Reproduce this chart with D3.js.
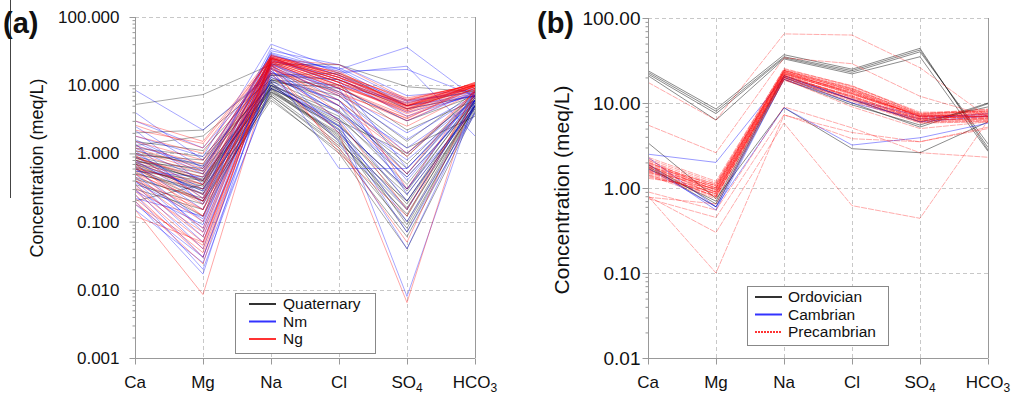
<!DOCTYPE html>
<html>
<head>
<meta charset="utf-8">
<script src="https://cdn.jsdelivr.net/npm/d3@7"></script>
<style>
  body { margin: 0; background: #fff; }
  svg { display: block; font-family: "Liberation Sans", Arial, sans-serif; }
</style>
</head>
<body>
<svg id="chart" width="1015" height="395"></svg>
<script>
const ions = ["Ca", "Mg", "Na", "Cl", "SO4", "HCO3"]
const ionLabels = [["Ca", ""], ["Mg", ""], ["Na", ""], ["Cl", ""], ["SO", "4"], ["HCO", "3"]]

// panel (a) ticks
const ticksA = [0.001, 0.01, 0.1, 1, 10, 100]
const tickLabelsA = ["0.001", "0.010", "0.100", "1.000", "10.000", "100.000"]
// panel (b) ticks
const ticksB = [0.01, 0.1, 1, 10, 100]
const tickLabelsB = ["0.01", "0.10", "1.00", "10.00", "100.00"]

// (a) Quaternary samples: Ca, Mg, Na, Cl, SO4, HCO3 (meq/L)
const quaternary = [
  [5.2, 7.3, 20, 20, 9.5, 8],
  [2.0, 2.2, 14, 12, 4.5, 7],
  [1.3, 1.8, 12, 10, 2.2, 6],
  [1.2, 0.9, 10, 4, 0.6, 6.5],
  [0.9, 0.55, 9, 3, 1.0, 7],
  [0.8, 0.45, 8, 2, 0.25, 5],
  [0.7, 0.35, 11, 1.5, 0.15, 6],
  [0.65, 0.3, 7, 1.2, 0.08, 4.5],
  [0.6, 0.25, 6.5, 1.0, 0.04, 4],
  [0.55, 0.4, 12, 6, 0.9, 7.5],
  [0.5, 0.3, 9, 1.8, 0.12, 5.5],
  [0.45, 0.2, 8, 2.5, 0.3, 6],
  [0.3, 0.15, 7.5, 1.4, 0.2, 5],
  [1.0, 0.7, 15, 8, 1.5, 8],
  [0.75, 0.6, 13, 5, 0.5, 7],
  [0.4, 0.12, 10, 3.5, 0.35, 6.5],
  [0.2, 0.35, 9.5, 2.2, 0.09, 5],
  [0.85, 0.5, 11, 9, 3.0, 7],
  [1.5, 1.1, 14, 15, 5, 8.5],
  [0.6, 0.2, 6, 1.1, 0.06, 4.2],
  [0.95, 0.8, 10.5, 3.2, 0.45, 5.5],
  [0.7, 0.28, 8.5, 1.6, 0.1, 5.2],
  [0.35, 0.18, 7, 1.3, 0.13, 4.8],
  [1.1, 0.65, 12, 7, 1.2, 3.5],
  [0.8, 0.4, 9, 2.8, 0.2, 6],
  [0.62, 0.33, 10, 2.3, 0.18, 5.8],
  [0.52, 0.26, 8.8, 1.7, 0.07, 5],
  [0.72, 0.42, 11.5, 4.2, 0.7, 6.8],
  [0.42, 0.22, 7.8, 1.9, 0.16, 4.6],
  [0.88, 0.38, 9.8, 2.6, 0.28, 6.2]
]

// (a) Nm samples
const nm = [
  [8.5, 2.2, 15, 12, 0.6, 7],
  [3.0, 1.2, 18, 5, 0.3, 8],
  [2.5, 0.6, 20, 2, 0.15, 6],
  [1.8, 0.9, 40, 17, 36, 6.5],
  [1.5, 0.5, 30, 16, 17, 7],
  [1.2, 0.4, 35, 15, 19, 1.8],
  [1.0, 0.3, 25, 12, 5, 7.5],
  [0.9, 0.25, 22, 18, 6, 8],
  [0.8, 0.2, 20, 3, 0.008, 6],
  [0.7, 0.15, 28, 14, 4.5, 7],
  [0.6, 0.1, 15, 1.5, 0.04, 5],
  [0.5, 0.08, 18, 0.6, 0.6, 6],
  [0.45, 0.06, 12, 2.5, 0.3, 4.5],
  [0.4, 0.05, 22, 8, 2, 7],
  [0.35, 0.04, 16, 5, 1.2, 6],
  [0.3, 0.03, 14, 4, 0.8, 5.5],
  [0.25, 0.02, 10, 2.5, 0.1, 4],
  [0.2, 0.017, 20, 9, 3, 8],
  [0.18, 0.03, 13, 6, 0.5, 6.5],
  [0.22, 0.12, 26, 10, 5.5, 9],
  [2.2, 0.35, 24, 11, 4, 7],
  [1.4, 0.18, 19, 7, 1.0, 6],
  [0.65, 0.07, 17, 9, 0.25, 5],
  [0.55, 0.45, 11, 2.2, 0.07, 3.8],
  [1.1, 0.22, 32, 20, 7, 8.5],
  [0.28, 0.09, 23, 13, 3.5, 7.5],
  [4.0, 0.8, 21, 6, 0.4, 6],
  [0.15, 0.025, 9, 3.2, 0.2, 5],
  [1.6, 0.55, 27, 17, 5, 7],
  [0.75, 0.28, 16, 3.8, 0.45, 5.2],
  [0.38, 0.11, 21, 7.5, 1.6, 6.8],
  [1.3, 0.65, 29, 14, 5.8, 7.8]
]

// (a) Ng samples
const ng = [
  [3.0, 1.5, 26, 14, 5, 10],
  [2.2, 1.4, 24, 12, 4.5, 9.5],
  [1.8, 1.0, 25, 13, 5.5, 10],
  [1.5, 0.8, 22, 10, 4, 9],
  [1.2, 0.6, 27, 15, 6, 10.5],
  [1.0, 0.5, 23, 11, 4.8, 9.8],
  [0.9, 0.4, 21, 9, 3.5, 9],
  [0.8, 0.35, 26, 14, 5.2, 10],
  [0.75, 0.3, 24, 12, 4.2, 10.5],
  [0.7, 0.25, 20, 8, 3, 8.5],
  [0.65, 0.2, 25, 13, 5, 11],
  [0.6, 0.18, 22, 10, 4.5, 9.5],
  [0.55, 0.15, 19, 7, 2.5, 8],
  [0.5, 0.12, 26, 14, 6.5, 10],
  [0.45, 0.1, 23, 11, 3.8, 9],
  [0.4, 0.08, 21, 9, 3.2, 10],
  [0.35, 0.06, 24, 12, 5, 11],
  [0.3, 0.05, 18, 6, 1.0, 8],
  [0.28, 0.04, 22, 10, 4.2, 9.5],
  [0.25, 0.03, 20, 4, 0.5, 8.5],
  [0.2, 0.024, 25, 13, 5.8, 10],
  [0.15, 0.0085, 16, 2, 0.0065, 9],
  [0.12, 0.05, 15, 1.2, 0.05, 7],
  [1.3, 0.7, 27, 15, 6, 10.5],
  [0.85, 0.45, 25, 12, 5, 9.5],
  [0.95, 0.22, 20, 5, 0.9, 8],
  [0.6, 0.35, 22, 16, 4.6, 10],
  [0.5, 0.2, 28, 13, 5.3, 10.8],
  [0.4, 0.15, 18, 3, 0.15, 7.5],
  [0.7, 0.12, 23, 11, 0.3, 9],
  [1.1, 0.55, 24, 20, 6.2, 10.2],
  [0.32, 0.07, 21, 9.5, 4.4, 9.6],
  [0.22, 0.035, 17, 7.5, 3.3, 9],
  [2.6, 1.2, 25, 11, 4.9, 10],
  [0.18, 0.045, 20, 1.0, 0.12, 8]
]

// (b) Ordovician samples
const ordovician = [
  [24, 8.5, 37, 25, 44, 2.8],
  [23, 8.0, 35, 24, 42, 3.0],
  [22, 7.5, 34, 23, 40, 3.3],
  [21, 6.3, 33, 22, 35, 2.7],
  [3.4, 0.75, 8.8, 2.9, 2.6, 6.0],
  [1.9, 0.65, 20, 10, 5.2, 9.8],
  [1.8, 0.6, 19, 9.5, 5.5, 10],
  [1.7, 0.7, 21, 11, 6, 9]
]

// (b) Cambrian samples
const cambrian = [
  [2.5, 2.0, 20, 11, 6, 7],
  [2.3, 0.6, 8.8, 3.2, 3.9, 5.8],
  [1.9, 0.55, 19, 10, 6.5, 7.5],
  [1.7, 0.6, 21, 11, 7, 7]
]

// (b) Precambrian samples
const precambrian = [
  [2.3, 1.2, 25, 16, 7.5, 8.5],
  [2.2, 1.15, 24, 15, 7.2, 8.2],
  [2.1, 1.1, 23, 14.5, 7.0, 8.0],
  [2.0, 1.05, 24.5, 15.5, 7.6, 7.8],
  [1.95, 1.0, 22, 14, 6.8, 7.5],
  [1.9, 1.0, 23.5, 13, 7.1, 7.2],
  [1.85, 0.95, 21, 13.5, 6.6, 7.0],
  [1.8, 0.95, 22.5, 12.5, 7.3, 6.8],
  [1.75, 0.9, 24, 14, 6.9, 6.6],
  [1.7, 0.9, 20, 12, 6.4, 6.4],
  [1.65, 0.85, 21.5, 11.5, 6.2, 6.5],
  [1.6, 0.85, 23, 13, 7.0, 6.9],
  [1.55, 0.8, 19, 11, 6.0, 6.2],
  [1.5, 0.8, 20.5, 12, 6.5, 7.1],
  [1.45, 0.78, 22, 12.8, 6.7, 7.4],
  [1.4, 0.75, 18.5, 10.5, 5.8, 6.0],
  [1.35, 0.9, 21, 11.8, 6.3, 6.7],
  [1.3, 1.0, 24, 14.8, 7.4, 8.4],
  [2.05, 0.88, 19.5, 11.2, 6.1, 6.3],
  [1.78, 1.12, 25.5, 15.8, 7.8, 7.9],
  [1.62, 0.97, 22.8, 13.3, 6.95, 7.3],
  [1.88, 0.82, 20.8, 12.2, 6.45, 6.9],
  [1.52, 1.08, 23.3, 14.2, 7.15, 7.6],
  [2.15, 0.92, 21.8, 12.9, 6.55, 7.0],
  [1.42, 0.86, 20.2, 11.6, 6.25, 6.6],
  [1.72, 1.02, 24.3, 14.6, 7.35, 8.1],
  [1.58, 0.79, 19.8, 10.8, 5.9, 6.1],
  [1.98, 1.06, 22.2, 13.7, 6.85, 7.7],
  [17.5, 6.3, 65, 63, 26, 6.8],
  [5.5, 2.6, 34, 29, 12, 7],
  [0.8, 0.1, 7.2, 4.5, 3.5, 5],
  [0.8, 0.3, 5.8, 0.62, 0.44, 6.2],
  [0.75, 0.45, 7.3, 3.8, 3.5, 5.2],
  [0.9, 0.55, 9, 5.1, 2.6, 2.3],
  [0.78, 0.65, 19, 9, 5, 6]
]

const svg = d3.select("#chart")

// stray rule at the far left of the figure
svg.append("line")
  .attr("x1", 10.5).attr("x2", 10.5).attr("y1", 0).attr("y2", 198)
  .attr("stroke", "#444").attr("stroke-width", 1)

const drawPanel = cfg => {
  const x = d3.scalePoint().domain(ions).range([cfg.left, cfg.right])
  const y = d3.scaleLog().domain(cfg.domain).range([cfg.bottom, cfg.top])
  const g = svg.append("g")

  // grid
  g.append("g").selectAll("line")
    .data(cfg.ticks)
    .join("line")
    .attr("x1", cfg.left).attr("x2", cfg.right)
    .attr("y1", d => Math.round(y(d)) + 0.5).attr("y2", d => Math.round(y(d)) + 0.5)
    .attr("stroke", "#c8c8c8").attr("stroke-dasharray", "4,3")
  g.append("g").selectAll("line")
    .data(ions.slice(1, -1))
    .join("line")
    .attr("x1", d => Math.round(x(d)) + 0.5).attr("x2", d => Math.round(x(d)) + 0.5)
    .attr("y1", cfg.top).attr("y2", cfg.bottom)
    .attr("stroke", "#c8c8c8").attr("stroke-dasharray", "4,3")

  // sample lines
  const line = d3.line().x((d, i) => x(ions[i])).y(d => y(d))
  cfg.groups.forEach(grp => {
    g.append("g").selectAll("path")
      .data(grp.data)
      .join("path")
      .attr("d", line)
      .attr("fill", "none")
      .attr("stroke", grp.color)
      .attr("stroke-opacity", grp.opacity)
      .attr("stroke-width", 1)
      .attr("stroke-dasharray", grp.dash || null)
  })

  // right border
  g.append("line")
    .attr("x1", cfg.right + 0.5).attr("x2", cfg.right + 0.5)
    .attr("y1", cfg.top).attr("y2", cfg.bottom)
    .attr("stroke", "#999")

  // left axis with minor ticks
  const minor = []
  for (let e = Math.log10(cfg.domain[0]); e < Math.log10(cfg.domain[1]); e++)
    for (let k = 2; k <= 9; k++) minor.push(k * Math.pow(10, e))
  const yMinor = g.append("g")
    .attr("transform", `translate(${cfg.left + 0.5},0)`)
    .call(d3.axisLeft(y).tickValues(minor).tickSize(3).tickFormat(""))
  const yAxis = g.append("g")
    .attr("transform", `translate(${cfg.left + 0.5},0)`)
    .call(d3.axisLeft(y).tickValues(cfg.ticks).tickSize(6).tickPadding(cfg.tickPad)
      .tickFormat((d, i) => cfg.tickLabels[i]))
  yAxis.selectAll("text").attr("font-size", cfg.tickFont).attr("fill", "#111")
    .attr("font-family", '"Liberation Sans", Arial, sans-serif')
  ;[yMinor, yAxis].forEach(a => {
    a.selectAll("path, line").attr("stroke", "#999")
    a.select(".domain").attr("d", `M-0,${cfg.top}V${cfg.bottom}`)
  })

  // bottom axis
  const xAxis = g.append("g")
    .attr("transform", `translate(0,${cfg.bottom + 0.5})`)
    .call(d3.axisBottom(x).tickSize(6).tickFormat(""))
  xAxis.selectAll("path, line").attr("stroke", "#999")
  xAxis.select(".domain").attr("d", `M${cfg.left},0H${cfg.right}`)

  const lab = g.append("g").selectAll("text")
    .data(ions)
    .join("text")
    .attr("x", d => x(d))
    .attr("y", cfg.bottom + 30)
    .attr("text-anchor", "middle")
    .attr("font-size", 17)
    .attr("fill", "#111")
  lab.append("tspan").text((d, i) => ionLabels[i][0])
  lab.append("tspan").attr("font-size", 12).attr("dy", 4).text((d, i) => ionLabels[i][1])

  // axis title
  g.append("text")
    .attr("transform", `translate(${cfg.titleX},${cfg.titleY}) rotate(-90)`)
    .attr("text-anchor", "middle")
    .attr("font-size", cfg.titleFont)
    .attr("fill", "#111")
    .text("Concentration (meq/L)")

  // panel tag
  g.append("text")
    .attr("x", cfg.tagX).attr("y", 33)
    .attr("font-size", 29).attr("font-weight", "bold")
    .attr("fill", "#111")
    .text(cfg.tag)

  // legend
  const L = cfg.legend
  g.append("rect")
    .attr("x", L.x + 0.5).attr("y", L.y + 0.5).attr("width", L.w).attr("height", L.h)
    .attr("fill", "#fff").attr("stroke", "#888")
  L.items.forEach((it, i) => {
    const cy = L.y + L.firstRow + i * L.rowGap
    g.append("line")
      .attr("x1", L.x + L.lineX0).attr("x2", L.x + L.lineX1)
      .attr("y1", cy).attr("y2", cy)
      .attr("stroke", it.color).attr("stroke-width", 2)
      .attr("stroke-dasharray", it.dash || null)
    g.append("text")
      .attr("x", L.x + L.textX).attr("y", cy + 5)
      .attr("font-size", 15.5).attr("fill", "#111")
      .text(it.name)
  })
}

drawPanel({
  left: 135, right: 475, top: 17, bottom: 358,
  domain: [0.001, 100], ticks: ticksA, tickLabels: tickLabelsA,
  tickFont: 17, tickPad: 10,
  titleX: 43, titleY: 168, titleFont: 18,
  tag: "(a)", tagX: 3,
  groups: [
    {data: quaternary, color: "#000", opacity: 0.35},
    {data: nm, color: "#0000ff", opacity: 0.35},
    {data: ng, color: "#ff0000", opacity: 0.35}
  ],
  legend: {
    x: 235, y: 293, w: 140, h: 60, firstRow: 11, rowGap: 17.5,
    lineX0: 14, lineX1: 41, textX: 48,
    items: [
      {name: "Quaternary", color: "#333"},
      {name: "Nm", color: "#3333ff"},
      {name: "Ng", color: "#ff3333"}
    ]
  }
})

drawPanel({
  left: 648, right: 988, top: 18, bottom: 358,
  domain: [0.01, 100], ticks: ticksB, tickLabels: tickLabelsB,
  tickFont: 19, tickPad: 2,
  titleX: 569, titleY: 190, titleFont: 21,
  tag: "(b)", tagX: 537,
  groups: [
    {data: ordovician, color: "#000", opacity: 0.45},
    {data: cambrian, color: "#0000ff", opacity: 0.4},
    {data: precambrian, color: "#ff0000", opacity: 0.33, dash: "6,1"}
  ],
  legend: {
    x: 747, y: 286, w: 141, h: 59, firstRow: 11, rowGap: 17.5,
    lineX0: 8, lineX1: 35, textX: 41,
    items: [
      {name: "Ordovician", color: "#333"},
      {name: "Cambrian", color: "#3333ff"},
      {name: "Precambrian", color: "#ff3333", dash: "2,1"}
    ]
  }
})
</script>
</body>
</html>
